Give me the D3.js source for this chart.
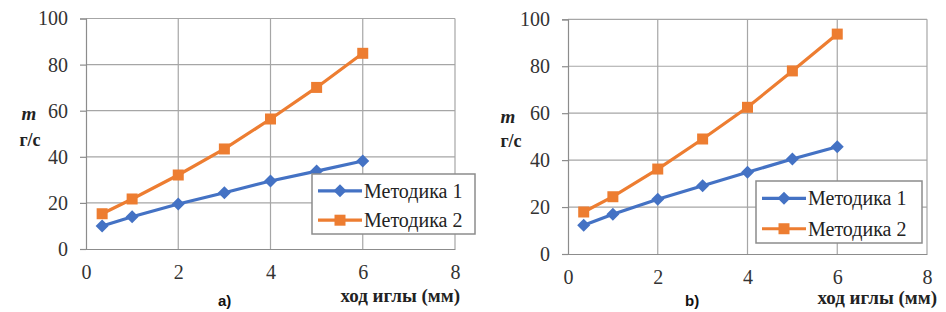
<!DOCTYPE html>
<html><head><meta charset="utf-8">
<script src="https://cdn.jsdelivr.net/npm/d3@7"></script>
<style>body{margin:0;background:#fff}svg{display:block}
.serif{font-family:"Liberation Serif","Times New Roman",Tinos,"DejaVu Serif",serif}
</style>
</head><body>
<svg id="c" width="946" height="312"></svg>
<script>
const xVals = [0.35, 1, 2, 3, 4, 5, 6];
const aMet1 = [10, 14, 19.5, 24.4, 29.5, 33.8, 38.2];
const aMet2 = [15.3, 21.7, 32.1, 43.4, 56.4, 70.1, 84.9];
const bMet1 = [12.2, 16.9, 23.3, 29.1, 34.8, 40.5, 45.7];
const bMet2 = [17.9, 24.4, 36.2, 49, 62.5, 78, 93.7];
const xTicks = [0, 2, 4, 6, 8];
const yTicks = [0, 20, 40, 60, 80, 100];
const seriesNames = ["Методика 1", "Методика 2"];
const xTitle = "ход иглы (мм)";
const yTitle1 = "m", yTitle2 = "г/с";
const panelLabels = ["a)", "b)"];

const blue = "#4472C4", orange = "#ED7D31";
const svg = d3.select("#c");

const panels = [
  {x0: 86, x1: 455, y0: 249, y1: 18.5, m1: aMet1, m2: aMet2, label: panelLabels[0],
   labX: 218, mX: 29, mY: 120, gX: 30, gY: 146, titleR: 460, titleY: 302,
   leg: {x: 312, y: 174, w: 163, h: 60}},
  {x0: 568, x1: 927, y0: 254, y1: 19.3, m1: bMet1, m2: bMet2, label: panelLabels[1],
   labX: 685, mX: 508, mY: 123, gX: 511, gY: 147, titleR: 937, titleY: 304,
   leg: {x: 756, y: 181, w: 166, h: 62}}
];

function diamond(r){ return `M0,${-r}L${r},0L0,${r}L${-r},0Z`; }
function square(r){ return `M${-r},${-r}H${r}V${r}H${-r}Z`; }

panels.forEach(p => {
  const x = d3.scaleLinear().domain([0, 8]).range([p.x0, p.x1]);
  const y = d3.scaleLinear().domain([0, 100]).range([p.y0, p.y1]);
  const g = svg.append("g");
  g.selectAll(".hg").data(yTicks.filter(d => d > 0)).join("line")
    .attr("x1", p.x0).attr("x2", p.x1).attr("y1", d => y(d)).attr("y2", d => y(d))
    .attr("stroke", "#a6a6a6").attr("stroke-width", 1.2);
  g.selectAll(".vg").data(xTicks.filter(d => d > 0)).join("line")
    .attr("x1", d => x(d)).attr("x2", d => x(d)).attr("y1", p.y1).attr("y2", p.y0)
    .attr("stroke", "#a6a6a6").attr("stroke-width", 1.2);
  const ya = g.append("g").attr("transform", `translate(${p.x0},0)`)
    .call(d3.axisLeft(y).tickValues(yTicks).tickSize(6).tickPadding(12));
  const xa = g.append("g").attr("transform", `translate(0,${p.y0})`)
    .call(d3.axisBottom(x).tickValues(xTicks).tickSize(0).tickPadding(12));
  [ya, xa].forEach(a => {
    a.attr("font-family", null).attr("font-size", null);
    a.select(".domain").attr("stroke", "#8c8c8c").attr("stroke-width", 1.2);
    a.selectAll(".tick line").attr("stroke", "#8c8c8c").attr("stroke-width", 1.2);
    a.selectAll("text").attr("class", "serif").style("font-size", "20px").attr("fill", "#333");
  });
  xa.selectAll("text").attr("dy", "0.9em");
  const line = d3.line().x((d, i) => x(xVals[i])).y(d => y(d));
  [[p.m1, blue, diamond(6.5)], [p.m2, orange, square(5.5)]].forEach(([vals, col, sym]) => {
    g.append("path").datum(vals).attr("d", line).attr("fill", "none")
      .attr("stroke", col).attr("stroke-width", 3.2);
    g.selectAll(null).data(vals).join("path")
      .attr("d", sym).attr("transform", (d, i) => `translate(${x(xVals[i])},${y(d)})`)
      .attr("fill", col);
  });
  const L = p.leg;
  g.append("rect").attr("x", L.x).attr("y", L.y).attr("width", L.w).attr("height", L.h)
    .attr("fill", "#fff").attr("stroke", "#8c8c8c").attr("stroke-width", 1.5);
  const rows = [[seriesNames[0], blue, diamond(6.5)], [seriesNames[1], orange, square(5.5)]];
  rows.forEach(([name, col, sym], i) => {
    const cy = L.y + (i === 0 ? 0.28 : 0.77) * L.h;
    g.append("line").attr("x1", L.x + 6).attr("x2", L.x + 50).attr("y1", cy).attr("y2", cy)
      .attr("stroke", col).attr("stroke-width", 3.2);
    g.append("path").attr("d", sym).attr("transform", `translate(${L.x + 28},${cy})`).attr("fill", col);
    g.append("text").attr("class", "serif").attr("x", L.x + 52).attr("y", cy).attr("dy", "0.35em")
      .style("font-size", "20px").attr("fill", "#222").text(name);
  });
  g.append("text").attr("class", "serif").attr("x", p.titleR).attr("y", p.titleY).attr("text-anchor", "end")
    .style("font-weight", "bold").style("font-size", "19px")
    .attr("fill", "#222").text(xTitle);
  g.append("text").attr("class", "serif").attr("x", p.mX).attr("y", p.mY).attr("text-anchor", "middle")
    .style("font-weight", "bold").style("font-style", "italic")
    .style("font-size", "19px").attr("fill", "#222").text(yTitle1);
  g.append("text").attr("class", "serif").attr("x", p.gX).attr("y", p.gY).attr("text-anchor", "middle")
    .style("font-weight", "bold").style("font-size", "18px").attr("fill", "#222").text(yTitle2);
  g.append("text").attr("x", p.labX).attr("y", 306)
    .style("font-family", "'Liberation Sans', Arial, sans-serif").style("font-weight", "bold")
    .style("font-size", "15px").attr("fill", "#111").text(p.label);
});
</script>
</body></html>
